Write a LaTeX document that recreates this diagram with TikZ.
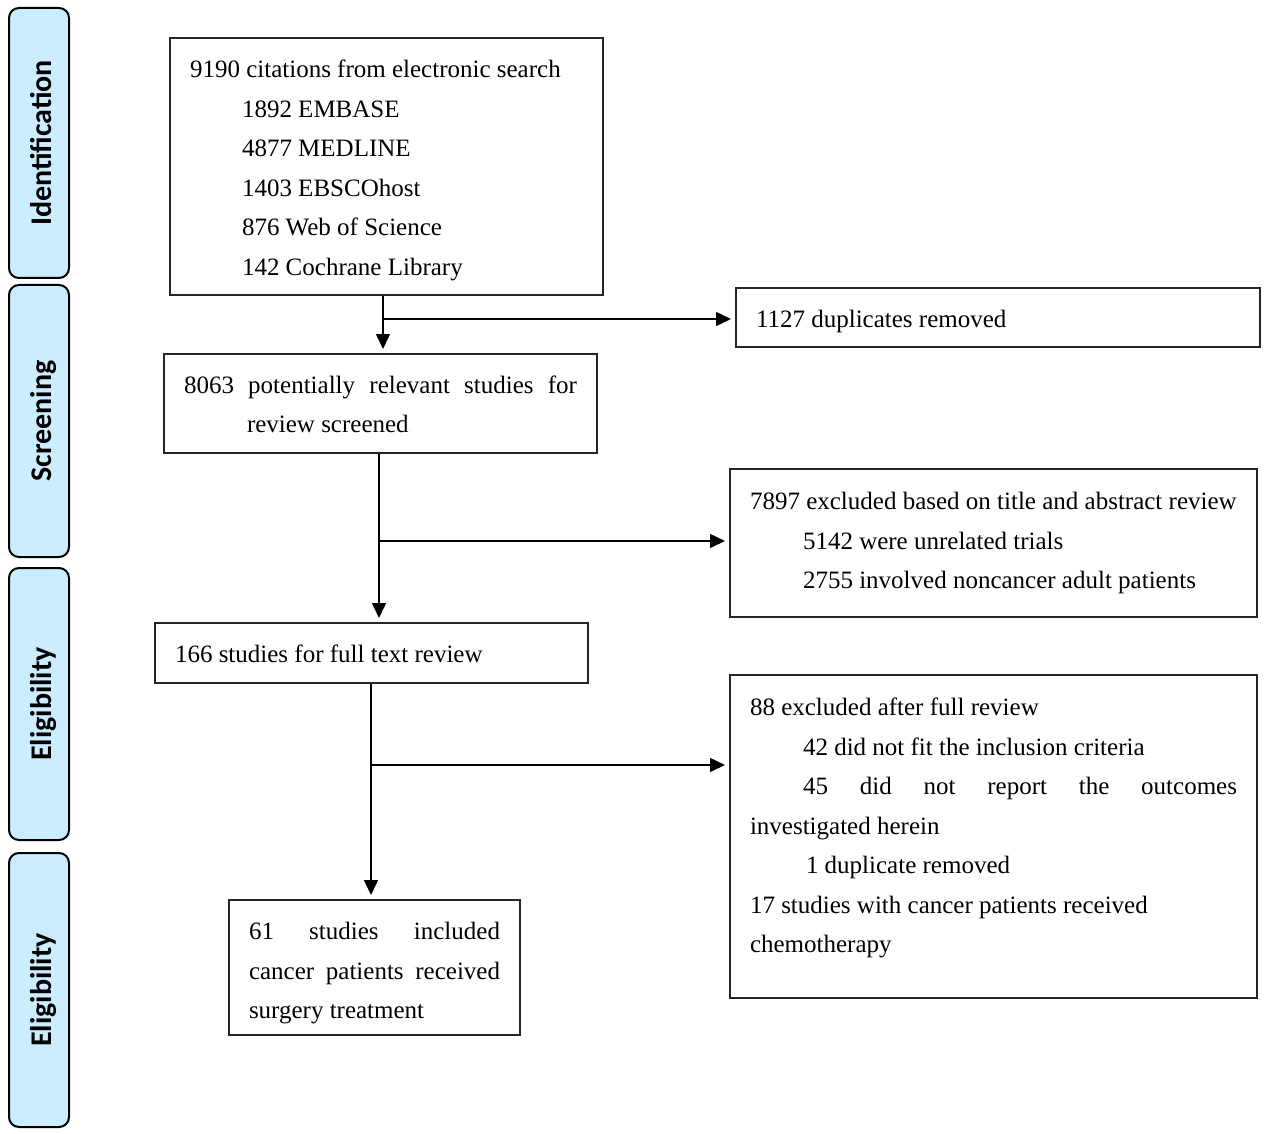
\documentclass[tikz,border=0pt]{standalone}
\usepackage{fontspec}
\setmainfont{Liberation Serif}
\newfontfamily\sidefont{Carlito}
\usetikzlibrary{arrows.meta}
\tikzset{
  sidebox/.style={draw=black, line width=2pt, fill=sideblue, rounded corners=10pt,
    rotate=90, inner sep=0pt, font=\sidefont\bfseries\fontsize{30}{32}\selectfont},
  flowbox/.style={draw=black!85, line width=2pt, inner sep=0pt, align=left},
  arr/.style={line width=1.5pt, -{Triangle[length=15pt,width=14pt]}, shorten >=4pt},
  plain/.style={line width=1.5pt}
}
\definecolor{sideblue}{RGB}{204,236,255}
\newcommand{\bt}[2]{\parbox{#1}{\fontsize{25}{39.5}\selectfont #2}}
\begin{document}
\begin{tikzpicture}[x=1pt,y=-1pt]
\useasboundingbox (0,0) rectangle (1267,1134);
% side labels
\node[sidebox, minimum width=270pt, minimum height=60pt] (s1) at (39,143) {\smash{\raisebox{-12pt}{Identification}}};
\node[sidebox, minimum width=272pt, minimum height=60pt] (s2) at (39,421) {\smash{\raisebox{-12pt}{Screening}}};
\node[sidebox, minimum width=272pt, minimum height=60pt] (s3) at (39,704) {\smash{\raisebox{-12pt}{Eligibility}}};
\node[sidebox, minimum width=274pt, minimum height=60pt] (s4) at (39,990) {\smash{\raisebox{-12pt}{Eligibility}}};
% main boxes
\node[flowbox, minimum width=433pt, minimum height=257pt] (A) at (386.5,166.5)
  {\bt{393pt}{\vspace*{8pt}9190 citations from electronic search\\
  \hspace*{52pt}1892 EMBASE\\
  \hspace*{52pt}4877 MEDLINE\\
  \hspace*{52pt}1403 EBSCOhost\\
  \hspace*{52pt}876 Web of Science\\
  \hspace*{52pt}142 Cochrane Library}};
\node[flowbox, minimum width=524pt, minimum height=59pt] (dup) at (998,317.5)
  {\bt{484pt}{\vspace*{8pt}1127 duplicates removed}};
\node[flowbox, minimum width=433pt, minimum height=99pt] (B) at (380.5,403.5)
  {\bt{393pt}{\vspace*{2pt}\makebox[393pt][s]{8063 potentially relevant studies for}\\
  \hspace*{63pt}review screened}};
\node[flowbox, minimum width=527pt, minimum height=148pt] (ex1) at (993.5,543)
  {\bt{487pt}{7897 excluded based on title and abstract review\\
  \hspace*{53pt}5142 were unrelated trials\\
  \hspace*{53pt}2755 involved noncancer adult patients}};
\node[flowbox, minimum width=433pt, minimum height=60pt] (C) at (371.5,653)
  {\bt{393pt}{\vspace*{2pt}166 studies for full text review}};
\node[flowbox, minimum width=527pt, minimum height=323pt] (ex2) at (993.5,836.5)
  {\bt{487pt}{\vspace*{4pt}88 excluded after full review\\
  \hspace*{53pt}42 did not fit the inclusion criteria\\
  \hspace*{53pt}\makebox[434pt][s]{45 did not report the outcomes}\\
  investigated herein\\
  \hspace*{56pt}1 duplicate removed\\
  17 studies with cancer patients received\\
  chemotherapy\par\vspace*{21pt}\hrule height 0pt}};
\node[flowbox, minimum width=291pt, minimum height=135pt] (D) at (374.5,967.5)
  {\bt{251pt}{\vspace*{12pt}\makebox[251pt][s]{61 studies included}\\
  \makebox[251pt][s]{cancer patients received}\\
  surgery treatment}};
% connectors
\coordinate (x1) at (383,0);
\coordinate (x2) at (379,0);
\coordinate (x3) at (371,0);
\coordinate (j1) at (383,319);
\coordinate (j2) at (379,541);
\coordinate (j3) at (371,765);
\draw[arr] (A.south -| x1) -- (B.north -| x1);
\draw[arr] (j1) -- (dup.west |- j1);
\draw[arr] (B.south -| x2) -- (C.north -| x2);
\draw[arr] (j2) -- (ex1.west |- j2);
\draw[arr] (C.south -| x3) -- (D.north -| x3);
\draw[arr] (j3) -- (ex2.west |- j3);
\end{tikzpicture}
\end{document}
